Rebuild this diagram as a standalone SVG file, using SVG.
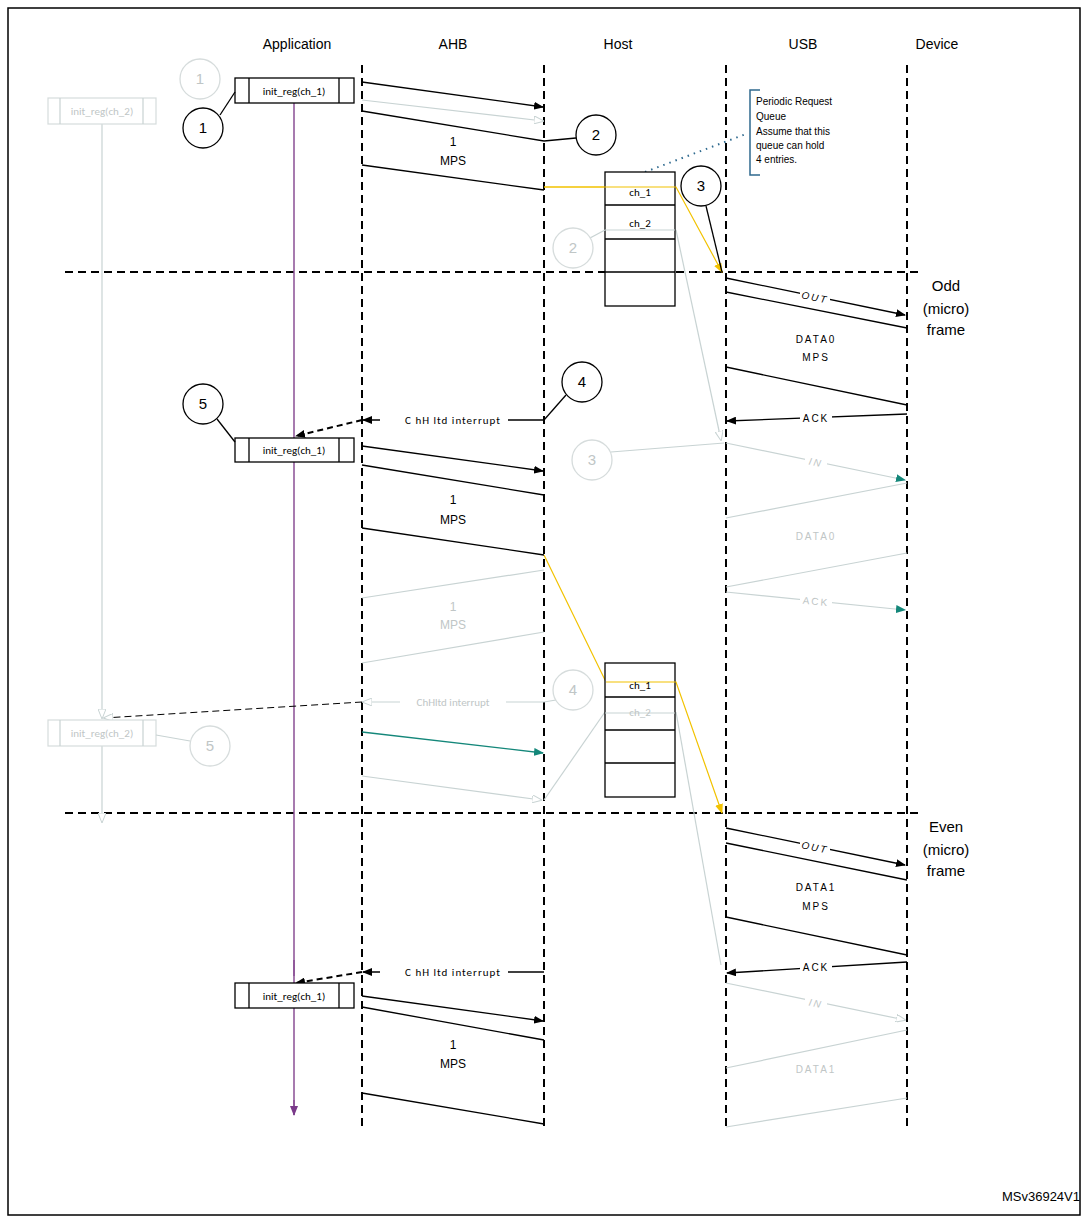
<svg xmlns="http://www.w3.org/2000/svg" width="1089" height="1223" viewBox="0 0 1089 1223">
<defs>
<marker id="ab" markerWidth="10" markerHeight="8" refX="9" refY="4" orient="auto" markerUnits="userSpaceOnUse"><path d="M0,0 L10,4 L0,8 Z" fill="#000"/></marker>
<marker id="ay" markerWidth="10" markerHeight="8" refX="9" refY="4" orient="auto" markerUnits="userSpaceOnUse"><path d="M0,0 L10,4 L0,8 Z" fill="#f2c200"/></marker>
<marker id="at" markerWidth="10" markerHeight="8" refX="9" refY="4" orient="auto" markerUnits="userSpaceOnUse"><path d="M0,0 L10,4 L0,8 Z" fill="#14877a"/></marker>
<marker id="ap" markerWidth="10" markerHeight="8" refX="9" refY="4" orient="auto" markerUnits="userSpaceOnUse"><path d="M0,0 L10,4 L0,8 Z" fill="#7a3a8a"/></marker>
<marker id="ao" markerWidth="10" markerHeight="8" refX="9" refY="4" orient="auto" markerUnits="userSpaceOnUse"><path d="M0,0 L10,4 L0,8 Z" fill="#fff" stroke="#c8d3d3"/></marker>
</defs>
<style>
text{font-family:"Liberation Sans",Arial,sans-serif;fill:#000}
.h{font-size:14px;text-anchor:middle}
.s{font-family:Calibri,"Carlito","Liberation Sans",sans-serif;font-size:11px;text-anchor:middle}
.m{font-size:12px;text-anchor:middle}
.sp{font-size:10px;text-anchor:middle;letter-spacing:2px}
.f{fill:#c0c6c6}
.ln{stroke:#000;stroke-width:1.3;fill:none}
.fl{stroke:#c8d3d3;stroke-width:1.2;fill:none}
.dv{stroke:#000;stroke-width:2;stroke-dasharray:8,5;fill:none}
.c{fill:#fff;stroke:#000;stroke-width:1.3}
.cf{fill:#fff;stroke:#d6dcdc;stroke-width:1.3}
.y{stroke:#f2c200;stroke-width:1.2;fill:none}
.ct{font-size:15px;text-anchor:middle}
</style>
<rect x="8" y="8" width="1072" height="1207" fill="#fff" stroke="#000" stroke-width="1.5"/>
<g id="headers">
<text class="h" x="297" y="49">Application</text>
<text class="h" x="453" y="49">AHB</text>
<text class="h" x="618" y="49">Host</text>
<text class="h" x="803" y="49">USB</text>
<text class="h" x="937" y="49">Device</text>
</g>
<g id="lifelines">
<line class="dv" x1="362" y1="65" x2="362" y2="1128"/>
<line class="dv" x1="544" y1="65" x2="544" y2="1128"/>
<line class="dv" x1="726" y1="65" x2="726" y2="1128"/>
<line class="dv" x1="907" y1="65" x2="907" y2="1128"/>
<line class="dv" x1="65" y1="272" x2="922" y2="272"/>
<line class="dv" x1="65" y1="813" x2="922" y2="813"/>
<text class="ct" x="946" y="291">Odd</text><text class="ct" x="946" y="314">(micro)</text><text class="ct" x="946" y="335">frame</text>
<text class="ct" x="946" y="832">Even</text><text class="ct" x="946" y="855">(micro)</text><text class="ct" x="946" y="876">frame</text>
</g>
<g id="connectors">
<line x1="294" y1="103" x2="294" y2="1115" stroke="#8a4f95" stroke-width="1.5"/>
<path d="M294,440 L294,461 M294,960 L294,976 M294,1100 L294,1115" stroke="#8a4f95" stroke-width="1.5" marker-end="url(#ap)"/>
<line class="fl" x1="102" y1="124" x2="102" y2="718" marker-end="url(#ao)"/>
<line class="fl" x1="102" y1="746" x2="102" y2="822" marker-end="url(#ao)"/>
<line class="ln" x1="362" y1="82" x2="543" y2="107" marker-end="url(#ab)"/>
<line class="fl" x1="362" y1="100" x2="543" y2="121" marker-end="url(#ao)"/>
<polyline class="y" points="544,187 676,187 722,272" marker-end="url(#ay)"/>
<line class="fl" x1="676" y1="230" x2="721" y2="440" marker-end="url(#ao)"/>
<line class="ln" x1="726" y1="278" x2="905" y2="315" marker-end="url(#ab)"/>
<line class="ln" x1="907" y1="414" x2="727" y2="421" marker-end="url(#ab)"/>
<line class="ln" x1="544" y1="420" x2="363" y2="420" marker-end="url(#ab)"/>
<line x1="362" y1="420" x2="296" y2="436" stroke="#000" stroke-width="2" stroke-dasharray="6,4" marker-end="url(#ab)"/>
<line class="ln" x1="362" y1="446" x2="543" y2="471" marker-end="url(#ab)"/>
<line class="fl" x1="726" y1="443" x2="905" y2="480" marker-end="url(#at)"/>
<line class="fl" x1="726" y1="592" x2="905" y2="610" marker-end="url(#at)"/>
<polyline class="y" points="544,555 606,682 676,682 722,813" marker-end="url(#ay)"/>
<line class="fl" x1="544" y1="702" x2="363" y2="702" marker-end="url(#ao)"/>
<line x1="362" y1="702" x2="104" y2="718" stroke="#000" stroke-width="1" stroke-dasharray="7,4" marker-end="url(#ao)"/>
<line x1="362" y1="732" x2="543" y2="753" stroke="#14877a" stroke-width="1.3" marker-end="url(#at)"/>
<line class="fl" x1="362" y1="776" x2="541" y2="800" marker-end="url(#ao)"/>
<line class="fl" x1="544" y1="800" x2="605" y2="712"/>
<line class="fl" x1="676" y1="712" x2="721" y2="965"/>
<line class="ln" x1="726" y1="828" x2="905" y2="865" marker-end="url(#ab)"/>
<line class="ln" x1="907" y1="962" x2="727" y2="973" marker-end="url(#ab)"/>
<line class="ln" x1="544" y1="972" x2="363" y2="972" marker-end="url(#ab)"/>
<line x1="362" y1="972" x2="296" y2="983" stroke="#000" stroke-width="2" stroke-dasharray="6,4" marker-end="url(#ab)"/>
<line class="ln" x1="362" y1="996" x2="543" y2="1021" marker-end="url(#ab)"/>
<line class="fl" x1="726" y1="983" x2="905" y2="1020" marker-end="url(#ao)"/>
<line x1="645" y1="172" x2="746" y2="134" stroke="#2f6a8f" stroke-width="2" stroke-dasharray="1.5,5"/>
</g>
<g id="labels">
<rect x="800" y="290" width="30" height="14" fill="#fff"/><text class="sp" x="815" y="301" font-style="italic" transform="rotate(11 815 297)">OUT</text>
<rect x="800" y="411" width="32" height="14" fill="#fff"/><text class="sp" x="816" y="422">ACK</text>
<rect x="380" y="413" width="128" height="14" fill="#fff"/><text class="s" x="453" y="424" letter-spacing="1">C hH ltd interrupt</text>
<rect x="805" y="455" width="22" height="12" fill="#fff"/><text class="sp f" x="816" y="466" font-style="italic" transform="rotate(11 816 462)">IN</text>
<rect x="800" y="594" width="32" height="14" fill="#fff"/><text class="sp f" x="816" y="605" transform="rotate(5 816 601)">ACK</text>
<rect x="400" y="695" width="106" height="14" fill="#fff"/><text class="s f" x="453" y="706">ChHltd interrupt</text>
<rect x="800" y="840" width="30" height="14" fill="#fff"/><text class="sp" x="815" y="851" font-style="italic" transform="rotate(11 815 847)">OUT</text>
<rect x="800" y="960" width="32" height="14" fill="#fff"/><text class="sp" x="816" y="971">ACK</text>
<rect x="380" y="965" width="128" height="14" fill="#fff"/><text class="s" x="453" y="976" letter-spacing="1">C hH ltd interrupt</text>
<rect x="805" y="996" width="22" height="12" fill="#fff"/><text class="sp f" x="816" y="1007" font-style="italic" transform="rotate(11 816 1003)">IN</text>
<text x="1080" y="1201" font-size="13" text-anchor="end">MSv36924V1</text>
</g>
<g id="init1"><rect x="235" y="78" width="119" height="25" fill="#fff" stroke="#000" stroke-width="1.3"/><path d="M249,78V103M339,78V103" class="ln"/><text class="s" x="294" y="95">init_reg(ch_1)</text></g>
<g id="init2"><rect x="235" y="438" width="119" height="24" fill="#fff" stroke="#000" stroke-width="1.3"/><path d="M249,438V462M339,438V462" class="ln"/><text class="s" x="294" y="454">init_reg(ch_1)</text></g>
<g id="init3"><rect x="235" y="983" width="119" height="25" fill="#fff" stroke="#000" stroke-width="1.3"/><path d="M249,983V1008M339,983V1008" class="ln"/><text class="s" x="294" y="1000">init_reg(ch_1)</text></g>
<g id="initf1"><rect x="48" y="98" width="108" height="26" fill="#fff" stroke="#d6dcdc" stroke-width="1.2"/><path d="M60,98V124M143,98V124" class="fl"/><text class="s f" x="102" y="115">init_reg(ch_2)</text></g>
<g id="initf2"><rect x="48" y="720" width="108" height="26" fill="#fff" stroke="#d6dcdc" stroke-width="1.2"/><path d="M60,720V746M143,720V746" class="fl"/><text class="s f" x="102" y="737">init_reg(ch_2)</text></g>
<g id="mps1"><path d="M362,111 L544,141 M362,165 L544,190" class="ln" stroke-width="1.6"/><text class="m" x="453" y="146">1</text><text class="m" x="453" y="165">MPS</text></g>
<g id="mps2"><path d="M362,465 L544,495 M362,528 L544,555" class="ln" stroke-width="1.6"/><text class="m" x="453" y="504">1</text><text class="m" x="453" y="524">MPS</text></g>
<g id="mpsf"><path d="M362,598 L544,570 M362,663 L544,632" class="fl"/><text class="m f" x="453" y="611">1</text><text class="m f" x="453" y="629">MPS</text></g>
<g id="mps3"><path d="M362,1007 L544,1040 M362,1093 L544,1124" class="ln" stroke-width="1.6"/><text class="m" x="453" y="1049">1</text><text class="m" x="453" y="1068">MPS</text></g>
<g id="data0"><path d="M726,292 L907,328 M726,367 L907,405" class="ln" stroke-width="1.6"/><text class="sp" x="816" y="343" font-size="11">DATA0</text><text class="sp" x="816" y="361" font-size="11">MPS</text></g>
<g id="data0f"><path d="M726,518 L907,483 M726,587 L907,553" class="fl"/><text class="sp f" x="816" y="540" font-size="11">DATA0</text></g>
<g id="data1"><path d="M726,843 L907,880 M726,917 L907,955" class="ln" stroke-width="1.6"/><text class="sp" x="816" y="891" font-size="11">DATA1</text><text class="sp" x="816" y="910" font-size="11">MPS</text></g>
<g id="data1f"><path d="M726,1068 L907,1030 M726,1127 L907,1098" class="fl"/><text class="sp f" x="816" y="1073" font-size="11">DATA1</text></g>
<g id="queue1"><rect x="605" y="172" width="70" height="134" fill="#fff" stroke="#000" stroke-width="1.3"/><path d="M605,205H675M605,239H675M605,272H675" class="ln"/><line x1="544" y1="187" x2="676" y2="187" class="y"/><line class="fl" x1="605" y1="230" x2="675" y2="230"/><text class="s" x="640" y="196">ch_1</text><text class="s" x="640" y="227">ch_2</text></g>
<g id="queue2"><rect x="605" y="663" width="70" height="134" fill="#fff" stroke="#000" stroke-width="1.3"/><path d="M605,697H675M605,730H675M605,763H675" class="ln"/><line x1="606" y1="682" x2="676" y2="682" class="y"/><line class="fl" x1="605" y1="713" x2="675" y2="713"/><text class="s" x="640" y="689">ch_1</text><text class="s f" x="640" y="716">ch_2</text></g>
<g id="note"><path d="M760,90H750V175H760" fill="none" stroke="#2f6a8f" stroke-width="1.5"/><text font-size="10" font-family="Calibri,Carlito,'Liberation Sans',sans-serif"><tspan x="756" y="105">Periodic Request</tspan><tspan x="756" y="120">Queue</tspan><tspan x="756" y="135">Assume that this</tspan><tspan x="756" y="149">queue can hold</tspan><tspan x="756" y="163">4 entries.</tspan></text></g>
<g id="c1"><line class="ln" x1="220" y1="115" x2="235" y2="92"/><circle class="c" cx="203" cy="128" r="20"/><text class="ct" x="203" y="133">1</text></g>
<g id="c1f"><circle class="cf" cx="200" cy="79" r="20"/><text class="ct f" x="200" y="84">1</text></g>
<g id="c2"><line class="ln" x1="544" y1="141" x2="576" y2="138"/><circle class="c" cx="596" cy="135" r="20"/><text class="ct" x="596" y="140">2</text></g>
<g id="c2f"><line class="fl" x1="590" y1="238" x2="605" y2="230"/><circle class="cf" cx="573" cy="248" r="20"/><text class="ct f" x="573" y="253">2</text></g>
<g id="c3"><line class="ln" x1="706" y1="206" x2="722" y2="272"/><circle class="c" cx="701" cy="186" r="20"/><text class="ct" x="701" y="191">3</text></g>
<g id="c3f"><line class="fl" x1="611" y1="452" x2="724" y2="443"/><circle class="cf" cx="592" cy="460" r="20"/><text class="ct f" x="592" y="465">3</text></g>
<g id="c4"><line class="ln" x1="566" y1="395" x2="544" y2="420"/><circle class="c" cx="582" cy="382" r="20"/><text class="ct" x="582" y="387">4</text></g>
<g id="c4f"><line class="fl" x1="556" y1="700" x2="544" y2="702"/><circle class="cf" cx="573" cy="690" r="20"/><text class="ct f" x="573" y="695">4</text></g>
<g id="c5"><line class="ln" x1="217" y1="419" x2="235" y2="442"/><circle class="c" cx="203" cy="404" r="20"/><text class="ct" x="203" y="409">5</text></g>
<g id="c5f"><line class="fl" x1="190" y1="741" x2="156" y2="735"/><circle class="cf" cx="210" cy="746" r="20"/><text class="ct f" x="210" y="751">5</text></g>
</svg>
